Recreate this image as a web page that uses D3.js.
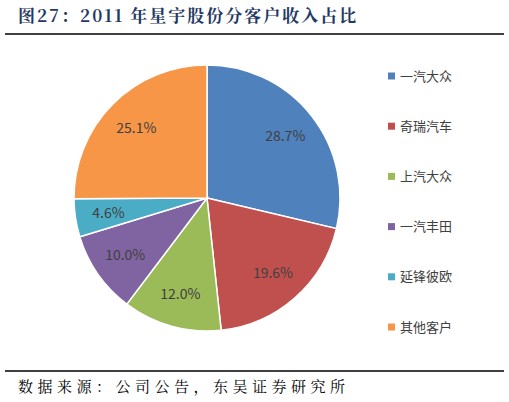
<!DOCTYPE html>
<html><head><meta charset="utf-8">
<script src="https://cdn.jsdelivr.net/npm/d3@7"></script>
<style>body{margin:0;background:#fff}</style>
</head><body><svg id="c" width="509" height="402"></svg>
<script>
const categories = ['一汽大众', '奇瑞汽车', '上汽大众', '一汽丰田', '延锋彼欧', '其他客户']
const values = [28.7, 19.6, 12.0, 10.0, 4.6, 25.1]
const colors = ['#4F81BD', '#C0504D', '#9BBB59', '#8064A2', '#4BACC6', '#F79646']

const svg = d3.select('#c')
svg.append('text').attr('x', 18).attr('y', 22)
  .attr('font-family', 'Noto Serif CJK SC, Noto Sans CJK SC, serif').attr('font-weight', 'bold')
  .attr('font-size', 17).attr('letter-spacing', 2).attr('fill', '#1F3864').text('图27：2011 年星宇股份分客户收入占比')
svg.append('line').attr('x1', 5).attr('x2', 504).attr('y1', 34).attr('y2', 34).attr('stroke', '#000').attr('stroke-width', 1.5)
svg.append('line').attr('x1', 5).attr('x2', 504).attr('y1', 371).attr('y2', 371).attr('stroke', '#000').attr('stroke-width', 1.5)
svg.append('text').attr('x', 18).attr('y', 392)
  .attr('font-family', 'Noto Serif CJK SC, Noto Sans CJK SC, serif').attr('font-size', 15)
  .attr('letter-spacing', 4.5).attr('fill', '#000')
  .text('数据来源：公司公告，东吴证券研究所')

const cx = 207, cy = 198, r = 133
const pie = d3.pie().sort(null).value(d => d)
const arc = d3.arc().innerRadius(0).outerRadius(r)
const labelArc = d3.arc().innerRadius(r * 0.75).outerRadius(r * 0.75)
const g = svg.append('g').attr('transform', `translate(${cx},${cy})`)
const arcs = pie(values)
g.selectAll('path').data(arcs).enter().append('path')
  .attr('d', arc).attr('fill', (d, i) => colors[i]).attr('stroke', '#fff').attr('stroke-width', 1.5)
g.selectAll('text').data(arcs).enter().append('text')
  .attr('transform', d => `translate(${labelArc.centroid(d)})`)
  .attr('text-anchor', 'middle').attr('dy', '0.35em')
  .attr('font-family', 'Noto Sans CJK SC').attr('font-size', 14).attr('fill', '#404040')
  .text(d => d.data.toFixed(1) + '%')

const y = d3.scalePoint().domain(categories).range([76, 327])
const leg = svg.append('g').selectAll('g').data(categories).enter().append('g')
  .attr('transform', d => `translate(388,${y(d)})`)
leg.append('rect').attr('x', 0).attr('y', -3.5).attr('width', 7).attr('height', 7).attr('fill', (d, i) => colors[i])
leg.append('text').attr('x', 12).attr('dy', '0.35em')
  .attr('font-family', 'Noto Sans CJK SC').attr('font-size', 13).attr('fill', '#404040').text(d => d)
</script></body></html>
